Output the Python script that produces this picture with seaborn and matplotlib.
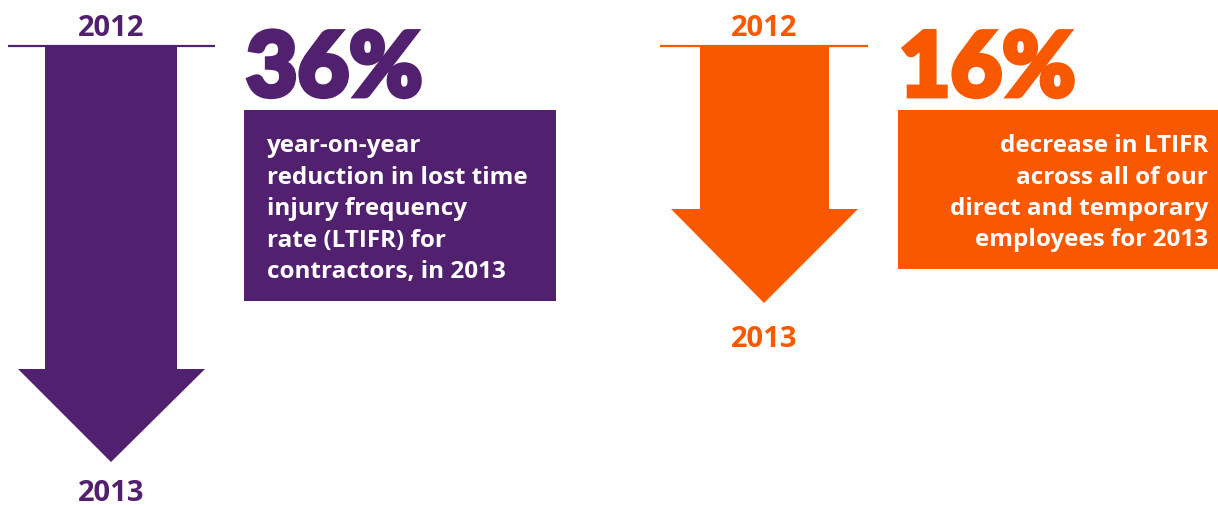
import matplotlib
matplotlib.use("Agg")
import matplotlib.pyplot as plt
import matplotlib.patheffects as pe
import seaborn as sns

# ---- data ----
start_years = ["2012", "2012"]
end_years = ["2013", "2013"]
percent_changes = [36, 16]
descriptions = [
    ["year-on-year", "reduction in lost time", "injury frequency",
     "rate (LTIFR) for", "contractors, in 2013"],
    ["decrease in LTIFR", "across all of our",
     "direct and temporary", "employees for 2013"],
]
panel_colors = ["#51216F", "#F85800"]

# ---- layout (pixel units, y downward) ----
layout = [
    dict(cx=111, line=(8, 215), shaft=(45, 177), head=(18, 205), head_y=370, tip_y=463,
         end_base=501, num_x=246, box=(244, 556, 111, 302), text_x=267, align="left"),
    dict(cx=764, line=(660, 868), shaft=(700, 829), head=(671, 858), head_y=210, tip_y=304,
         end_base=347, num_x=899, box=(898, 1218, 111, 270), text_x=1208, align="right"),
]
line_y = 46.5
first_base = 152
line_step = 31.5

sns.set_theme(style="white")
plt.rcParams["font.family"] = ["Open Sans", "DejaVu Sans"]

fig = plt.figure(figsize=(12.18, 5.06), dpi=100)
ax = fig.add_axes([0, 0, 1, 1])
ax.set_xlim(0, 1218)
ax.set_ylim(506, 0)
ax.axis("off")

for i in range(2):
    L = layout[i]
    col = panel_colors[i]
    # start year label
    ax.text(L["cx"], 36, start_years[i], color=col, fontsize=21, fontweight="bold",
            ha="center", va="baseline")
    # baseline line
    ax.plot(L["line"], [line_y, line_y], color=col, lw=1.6, solid_capstyle="butt")
    # arrow
    x0, x1 = L["shaft"]
    h0, h1 = L["head"]
    xs = [x0, x1, x1, h1, L["cx"], h0, x0]
    ys = [line_y, line_y, L["head_y"], L["head_y"], L["tip_y"], L["head_y"], L["head_y"]]
    ax.fill(xs, ys, color=col, lw=0)
    # end year label
    ax.text(L["cx"], L["end_base"], end_years[i], color=col, fontsize=21, fontweight="bold",
            ha="center", va="baseline")
    # big percentage
    ax.text(L["num_x"], 97, f"{percent_changes[i]}%", color=col, fontsize=64,
            fontweight="black", ha="left", va="baseline", family=["Lato", "DejaVu Sans"],
            path_effects=[pe.withStroke(linewidth=3.5, foreground=col, joinstyle="miter")])
    # box
    bx0, bx1, by0, by1 = L["box"]
    ax.fill([bx0, bx1, bx1, bx0], [by0, by0, by1, by1], color=col, lw=0)
    for k, line in enumerate(descriptions[i]):
        ax.text(L["text_x"], first_base + k * line_step, line, color="white",
                fontsize=17.5, fontweight="bold", ha=L["align"], va="baseline")

fig.savefig("out.png", dpi=100, facecolor="white")
